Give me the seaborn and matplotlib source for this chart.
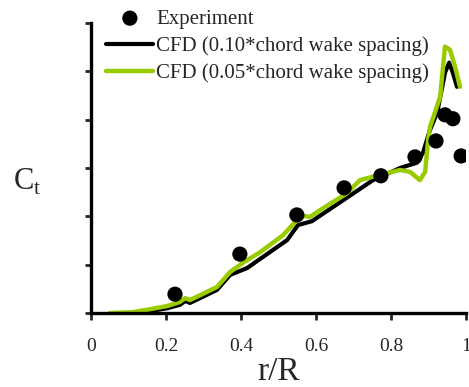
import matplotlib
matplotlib.use("Agg")
import matplotlib.pyplot as plt
import seaborn as sns
import pandas as pd

# Experiment
exp_x = [0.224, 0.397, 0.549, 0.675, 0.773, 0.864, 0.920, 0.944, 0.965, 0.987]
exp_y = [0.39, 1.22, 2.03, 2.59, 2.84, 3.23, 3.56, 4.10, 4.02, 3.25]

# CFD 0.10 chord
cfd10_x = [0.051, 0.112, 0.157, 0.203, 0.237, 0.251, 0.264, 0.291, 0.336, 0.371, 0.416,
           0.523, 0.552, 0.589, 0.685, 0.752, 0.824, 0.869, 0.885, 0.904, 0.923, 0.944,
           0.955, 0.965, 0.976]
cfd10_y = [0.0, 0.0, 0.04, 0.10, 0.17, 0.25, 0.21, 0.31, 0.48, 0.79, 0.93,
           1.51, 1.82, 1.90, 2.40, 2.75, 3.00, 3.11, 3.31, 3.79, 4.14, 4.97,
           5.18, 4.97, 4.68]

# CFD 0.05 chord
cfd05_x = [0.051, 0.112, 0.157, 0.203, 0.237, 0.251, 0.264, 0.291, 0.336, 0.371, 0.405,
           0.451, 0.512, 0.544, 0.565, 0.584, 0.611, 0.683, 0.717, 0.771, 0.824, 0.851,
           0.877, 0.891, 0.899, 0.904, 0.931, 0.944, 0.957, 0.971, 0.984]
cfd05_y = [0.0, 0.02, 0.08, 0.145, 0.23, 0.31, 0.27, 0.37, 0.54, 0.85, 1.04,
           1.26, 1.61, 1.88, 2.01, 1.99, 2.13, 2.48, 2.75, 2.86, 2.96, 2.92,
           2.75, 2.92, 3.58, 3.85, 4.47, 5.51, 5.45, 5.09, 4.68]

x_ticks = [0, 0.2, 0.4, 0.6, 0.8, 1]
x_tick_labels = ["0", "0.2", "0.4", "0.6", "0.8", "1"]
y_ticks = [0, 1, 2, 3, 4, 5, 6]

sns.set_style("ticks")
plt.rcParams["font.family"] = ["Liberation Serif", "DejaVu Serif"]
plt.rcParams["mathtext.fontset"] = "custom"
plt.rcParams["mathtext.rm"] = "Liberation Serif"

fig = plt.figure(figsize=(4.69, 3.87), dpi=100)
ax = fig.add_axes([0.194, 0.191, 0.9936 - 0.194, 0.9406 - 0.191])

df10 = pd.DataFrame({"x": cfd10_x, "y": cfd10_y})
df05 = pd.DataFrame({"x": cfd05_x, "y": cfd05_y})
dfe = pd.DataFrame({"x": exp_x, "y": exp_y})

sns.lineplot(data=df10, x="x", y="y", sort=False, color="black", lw=3.0, ax=ax,
             label="CFD (0.10*chord wake spacing)")
sns.lineplot(data=df05, x="x", y="y", sort=False, color="#99cc00", lw=3.2, ax=ax,
             label="CFD (0.05*chord wake spacing)")
sns.scatterplot(data=dfe, x="x", y="y", color="black", s=120, edgecolor="none", ax=ax,
                label="Experiment", zorder=5)

ax.set_xlim(0, 1)
ax.set_ylim(0, 6)
ax.set_xticks(x_ticks)
ax.set_xticklabels(x_tick_labels)
ax.set_yticks(y_ticks)
ax.set_yticklabels([])
ax.tick_params(axis="x", labelsize=14, width=2, length=5, direction="out", pad=13)
ax.tick_params(axis="y", width=2, length=4, direction="out")
for s in ["left", "bottom"]:
    ax.spines[s].set_linewidth(2.4)
    ax.spines[s].set_color("black")
sns.despine(ax=ax)

ax.set_xlabel("r/R", fontsize=24, labelpad=1)
ax.set_ylabel("")
fig.text(0.058, 0.53, r"C$_\mathregular{t}$", fontsize=22, ha="center", va="center")

handles, labels = ax.get_legend_handles_labels()
order = [labels.index("Experiment"), labels.index("CFD (0.10*chord wake spacing)"),
         labels.index("CFD (0.05*chord wake spacing)")]
ax.legend([handles[i] for i in order], [labels[i] for i in order],
          loc="upper left", bbox_to_anchor=(0.2225, 0.982), bbox_transform=fig.transFigure,
          frameon=False, fontsize=15, handlelength=2.25, handletextpad=0.15,
          labelspacing=0.36, borderaxespad=0.0, borderpad=0.1)

fig.savefig("out.png", dpi=100)
